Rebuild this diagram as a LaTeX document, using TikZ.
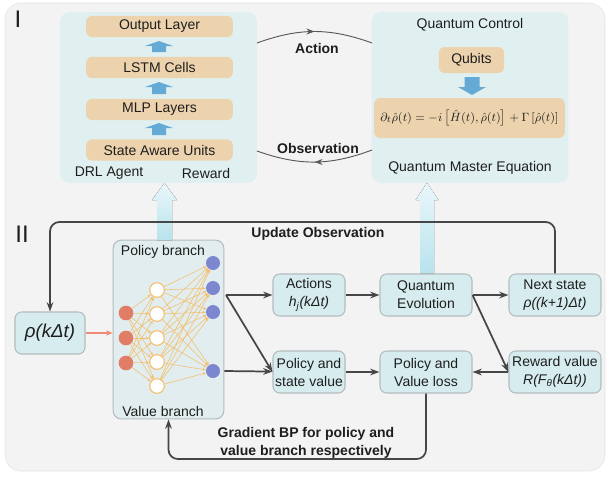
\documentclass[tikz,border=0pt]{standalone}
\usepackage{fontspec}
\setmainfont{Liberation Sans}
\usetikzlibrary{arrows.meta,decorations.markings}

\definecolor{panelbg}{HTML}{F3F3F3}
\definecolor{panelline}{HTML}{E3E3E3}
\definecolor{teallight}{HTML}{E0F0F0}
\definecolor{layerorange}{HTML}{EDD3AD}
\definecolor{arrowblue}{HTML}{64AAD5}
\definecolor{liftcyan}{HTML}{B8E3EE}
\definecolor{boxfill}{HTML}{D6ECEE}
\definecolor{boxline}{HTML}{B3BDBF}
\definecolor{netfill}{HTML}{E1EDEE}
\definecolor{flowgray}{HTML}{464646}
\definecolor{textdark}{HTML}{1E1E1E}
\definecolor{inred}{HTML}{E17D66}
\definecolor{outblue}{HTML}{7C87CF}
\definecolor{wireorange}{HTML}{F6BD68}
\definecolor{feedred}{HTML}{F08C76}

% block arrow: x, tip y, tail y, shaft half width, head half width, head length, style
\newcommand{\blockarrow}[7]{%
  \fill[#7] (#1,#2) -- ({#1+#5},{#2+#6}) -- ({#1+#4},{#2+#6}) -- ({#1+#4},#3)
    -- ({#1-#4},#3) -- ({#1-#4},{#2+#6}) -- ({#1-#5},{#2+#6}) -- cycle;}

\begin{document}
\begin{tikzpicture}[x=0.75pt, y=-0.75pt,
    every node/.style={font=\fontsize{10.5}{13.5}\selectfont, text=textdark},
    panel/.style={fill=teallight, rounded corners=7pt, minimum width=147.5pt, minimum height=128pt, inner sep=0pt},
    layer/.style={fill=layerorange, rounded corners=4.5pt, minimum width=110pt, minimum height=16pt, inner sep=0pt},
    stage/.style={fill=boxfill, draw=boxline, line width=0.8pt, rounded corners=5pt, minimum height=31.5pt, align=center, inner sep=1pt},
    boldtag/.style={font=\bfseries\fontsize{10.5}{13}\selectfont, align=center},
    flow/.style={draw=flowgray, line width=1.3pt, -{Stealth[length=7pt,width=5pt]}},
    loop/.style={draw=flowgray!90, line width=0.7pt, postaction={decorate,
      decoration={markings, mark=at position 0.5 with {\arrow{Stealth[length=6pt,width=4.5pt]}}}}},
    wire/.style={draw=wireorange, line width=0.4pt, -{Stealth[length=2.5pt,width=2pt]}},
    neuron/.style={circle, minimum size=11pt, inner sep=0pt}]
    \useasboundingbox (0,0) rectangle (609,476);
    \draw[fill=panelbg, draw=panelline, rounded corners=12pt] (5,3) rectangle (605,471);

    % Part I
    \node[font=\fontsize{18}{18}\selectfont] (partI) at (18,19) {I};
    \node[panel] (agent) at (158.5,97.5) {};
    \node[panel] (ctrl) at (470,97.5) {};

    \node[layer] (outl) at (159.5,26.5) {Output Layer};
    \node[layer] (lstm) at (159.5,67.5) {LSTM Cells};
    \node[layer] (mlp) at (159.5,109.5) {MLP Layers};
    \node[layer] (saware) at (159.5,150) {State Aware Units};
    \blockarrow{159}{41}{52}{7}{14}{5}{arrowblue}
    \blockarrow{159}{82}{94}{7}{14}{5}{arrowblue}
    \blockarrow{159}{123}{135}{7}{14}{5}{arrowblue}
    \node (drl) at (109,173) {DRL Agent};
    \node (rew) at (206,173) {Reward};

    \node (qctrl) at (470,25) {Quantum Control};
    \node[layer, minimum width=49pt, minimum height=19.5pt] (qubits) at (471.5,60) {Qubits};
    \blockarrow{472}{95}{77}{7.5}{14}{-8}{arrowblue}
    \node[layer, minimum width=143pt, minimum height=30pt, font=\fontsize{9.4}{11}\selectfont] (qme) at (469.5,118)
      {$\partial_t\hat{\rho}(t)=-i\left[\hat{H}(t),\hat{\rho}(t)\right]+\Gamma\left[\hat{\rho}(t)\right]$};
    \node (qmelabel) at (470,168) {Quantum Master Equation};

    \coordinate (actA) at (257,43);
    \coordinate (actB) at (372,43);
    \coordinate (obsA) at (372,150);
    \coordinate (obsB) at (257,151);
    \draw[loop] (actA) to[bend left=20] (actB);
    \draw[loop] (obsA) to[bend left=20] (obsB);
    \node[boldtag] (action) at (317,48) {Action};
    \node[boldtag] (observ) at (318,148) {Observation};

    % Part II
    \node[font=\fontsize{18}{18}\selectfont] (partII) at (22,234) {II};
    \node[stage, minimum width=52.5pt, font=\itshape\fontsize{14}{16}\selectfont] (rho) at (50,333) {ρ(kΔt)};
    \node[fill=netfill, draw=boxline, line width=0.8pt, rounded corners=6pt,
      minimum width=83pt, minimum height=134pt] (net) at (168.5,329.5) {};
    \node (polbr) at (163,252) {Policy branch};
    \node (valbr) at (163,411) {Value branch};

    \foreach \y [count=\i] in {313,338,363}
      \node[neuron, fill=inred] (in\i) at (126,\y) {};
    \foreach \y [count=\i] in {290,314,338,362,386}
      \node[neuron, fill=white, draw=wireorange, line width=0.8pt] (h\i) at (157,\y) {};
    \foreach \y [count=\i] in {263,288,312,371}
      \node[neuron, fill=outblue, minimum size=10.5pt] (o\i) at (213,\y) {};
    \foreach \i in {1,...,3}
      \foreach \j in {1,...,5}
        \draw[wire] (in\i) -- (h\j);
    \foreach \i in {1,...,5}
      \foreach \j in {1,...,4}
        \draw[wire] (h\i) -- (o\j);

    \node[stage, minimum width=54pt] (act) at (309,295) {Actions\\\textit{h\textsubscript{j}(kΔt)}};
    \node[stage, minimum width=69pt] (qevo) at (426,295) {Quantum\\Evolution};
    \node[stage, minimum width=69pt] (nxt) at (555,295) {Next state\\\textit{ρ((k+1)Δt)}};
    \node[stage, minimum width=54pt] (polsv) at (309,372) {Policy and\\state value};
    \node[stage, minimum width=69pt] (loss) at (426,372) {Policy and\\Value loss};
    \node[stage, minimum width=69pt] (rwd) at (555,372) {Reward value\\\textit{R(F\textsubscript{θ}(kΔt))}};

    % lift arrows into part I
    \blockarrow{164.5}{183}{240}{7.5}{12.5}{17}{top color=liftcyan!30, bottom color=liftcyan}
    \blockarrow{427}{183}{273}{7}{11.5}{17}{top color=liftcyan!30, bottom color=liftcyan}

    \draw[feedred, line width=0.8pt, -{Stealth[length=5pt,width=4pt]}] (rho) -- (net.west |- rho);
    \coordinate (split) at (226,295);
    \draw[flow] (split) -- (act);
    \draw[flow] (split) -- (polsv.west);
    \draw[flow] (net.east |- o4) -- (polsv);
    \draw[flow] (act) -- (qevo);
    \draw[flow] (qevo) -- (nxt);
    \draw[flow] (qevo.east) -- (rwd.west);
    \draw[flow] (polsv) -- (loss);
    \draw[flow] (rwd) -- (loss);

    \coordinate (upd) at (50,222);
    \draw[flow, rounded corners=7pt] (nxt.north) |- (upd) -- (rho.north);
    \node[boldtag] (updlabel) at (318,234) {Update Observation};

    \coordinate (gbp) at (168.5,459);
    \draw[flow, rounded corners=7pt] (loss.south) |- (gbp) -- (net.south);
    \node[boldtag] (gbplabel) at (306,443) {Gradient BP for policy and\\value branch respectively};
\end{tikzpicture}
\end{document}
